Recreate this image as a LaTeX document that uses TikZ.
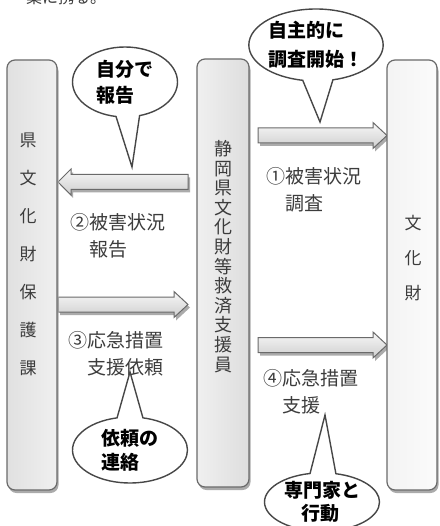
\documentclass[tikz,border=0pt]{standalone}
\usepackage{fontspec}
\setmainfont{Noto Sans CJK JP}
\usetikzlibrary{shapes.callouts,shapes.geometric}
\definecolor{txt}{HTML}{3C3C3C}
\definecolor{edge}{HTML}{6A6A6A}
\definecolor{shd}{HTML}{ABABAB}
\newcommand\rarrowpath[3]{(#1,#3-7.5) -- (#2-14,#3-7.5) -- (#2-14,#3-13) -- (#2,#3) -- (#2-14,#3+13) -- (#2-14,#3+7.5) -- (#1,#3+7.5) -- cycle}
\newcommand\larrowpath[3]{(#1,#3-7.5) -- (#2+13,#3-7.5) -- (#2+13,#3-13) -- (#2,#3) -- (#2+13,#3+13) -- (#2+13,#3+7.5) -- (#1,#3+7.5) -- cycle}
\begin{document}
\begin{tikzpicture}[x=1pt,y=-1pt,
  panel/.style={draw=edge, line width=1.2pt, rounded corners=8pt},
  shadowfill/.style={fill=shd, rounded corners=8pt},
  fatarrow/.style={draw=edge, line width=1pt, top color=gray!6, bottom color=gray!38},
  arrowshadow/.style={fill=shd},
  boxtext/.style={text=txt, align=center, inner sep=0pt},
  lbl/.style={text=txt, align=left, inner sep=0pt, anchor=west, font=\fontsize{19}{27}\selectfont},
  bubble/.style={ellipse callout, draw=black!72, line width=1.4pt, fill=white, inner sep=0pt,
    align=left, callout pointer arc=26, font=\bfseries}]
\useasboundingbox (0,0) rectangle (439,526);

% clipped text at top (only its lower part shows)
\node[text=txt, font=\fontsize{16}{16}\selectfont, inner sep=0pt] (toptext) at (66,-2.5) {業に携る。};

% arrows (shadow first)
\path[arrowshadow] [shift={(2,3)}] \rarrowpath{258}{387}{135.5};
\path[fatarrow] \rarrowpath{258}{387}{135.5};
\path[arrowshadow] [shift={(2,3)}] \larrowpath{188}{58}{182};
\path[fatarrow] \larrowpath{188}{58}{182};
\path[arrowshadow] [shift={(2,3)}] \rarrowpath{58}{188}{304.5};
\path[fatarrow] \rarrowpath{58}{188}{304.5};
\path[arrowshadow] [shift={(2,3)}] \rarrowpath{258}{387}{345};
\path[fatarrow] \rarrowpath{258}{387}{345};

% panels
\path[shadowfill] (8.5,63) rectangle (58.5,493);
\path[panel, left color=gray!24, right color=gray!12] (7,60) rectangle (57,490);
\path[shadowfill] (198.5,62) rectangle (250.5,490);
\path[panel, left color=gray!12, right color=gray!26] (197,59) rectangle (249,487);
\path[shadowfill] (388.5,63) rectangle (438.5,493);
\path[panel, left color=gray!9, right color=gray!3] (387,60) rectangle (437,490);

% panel texts
\node[boxtext, font=\fontsize{17}{38}\selectfont] (ken) at (28,254) {県\\文\\化\\財\\保\\護\\課};
\node[boxtext, font=\fontsize{18}{19.6}\selectfont] (kyusai) at (223,256.5) {静\\岡\\県\\文\\化\\財\\等\\救\\済\\支\\援\\員};
\node[boxtext, font=\fontsize{17}{35}\selectfont] (bunka) at (413,258) {文\\化\\財};

% arrow labels
\node[lbl] (l1) at (266,190) {①被害状況\\\hspace*{1em}調査};
\node[lbl] (l2) at (70,236) {②被害状況\\\hspace*{1em}報告};
\node[lbl] (l3) at (68,353.5) {③応急措置\\\hspace*{1em}支援依頼};
\node[lbl] (l4) at (263,391.5) {④応急措置\\\hspace*{1em}支援};

% callouts
\node[bubble, minimum width=105pt, minimum height=70pt, font=\fontsize{19}{26}\selectfont\bfseries,
  callout absolute pointer={(132,167)}] (c1) at (125,82) {自分で\\報告};
\node[bubble, minimum width=112pt, minimum height=72pt, font=\fontsize{19}{29}\selectfont\bfseries,
  callout absolute pointer={(320,122)}] (c2) at (316,45) {自主的に\\調査開始！};
\node[bubble, minimum width=115pt, minimum height=66pt, font=\fontsize{19}{24}\selectfont\bfseries,
  callout absolute pointer={(130,372)}] (c3) at (130,450) {依頼の\\連絡};
\node[bubble, minimum width=115pt, minimum height=58pt, font=\fontsize{19}{23}\selectfont\bfseries,
  callout absolute pointer={(325,415)}] (c4) at (322,502) {専門家と\\\hspace*{0.9em}行動};
\end{tikzpicture}
\end{document}
